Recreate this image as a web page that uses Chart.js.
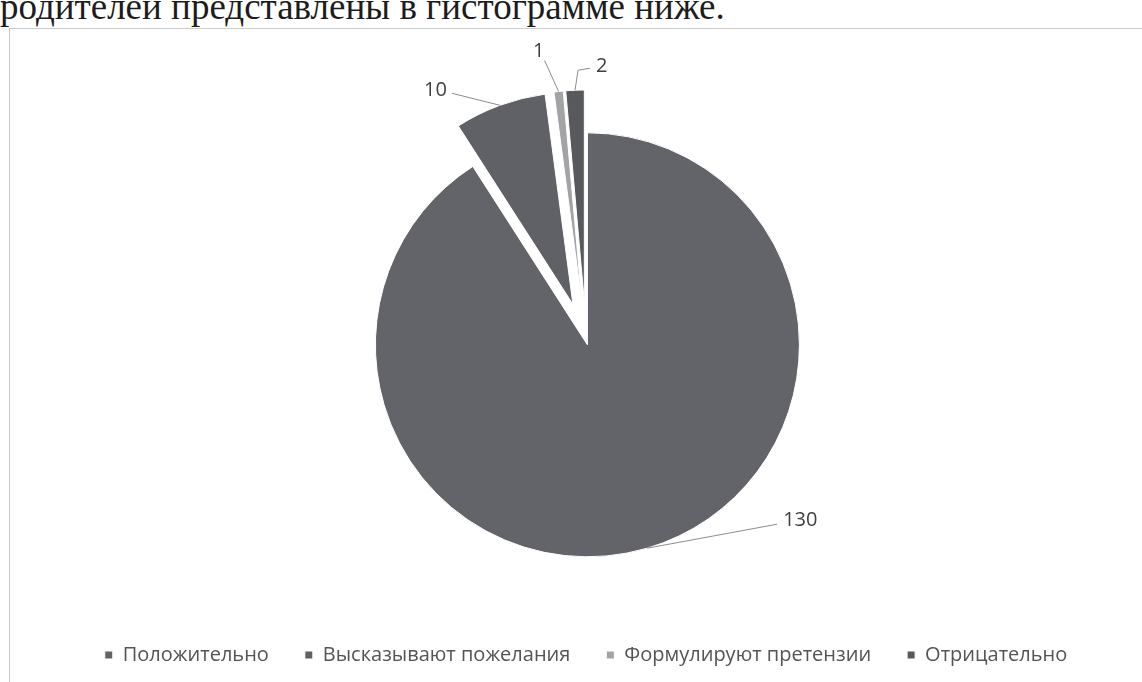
<!DOCTYPE html>
<html lang="ru">
<head>
<meta charset="utf-8">
<title>Отношение родителей</title>
<script src="https://cdn.jsdelivr.net/npm/chart.js@4.4.1/dist/chart.umd.min.js"></script>
<style>
  html, body { margin: 0; padding: 0; background: #fff; }
  body { width: 1142px; height: 682px; position: relative; overflow: hidden; }
  .line { position: absolute; left: 0; top: -14px; line-height: 41px; font-family: "Liberation Serif", serif; font-size: 37px; color: #1c1c1c; white-space: nowrap; }
  .frame { position: absolute; left: 9px; top: 28px; width: 1140px; height: 670px; border-left: 1px solid #c6c6c6; border-top: 1px solid #cdcdcd; }
  #wrap { position: absolute; left: 0; top: 0; width: 1142px; height: 682px; }
</style>
</head>
<body>
<div class="line">родителей представлены в гистограмме ниже.</div>
<div class="frame"></div>
<div id="wrap"><canvas id="pie"></canvas></div>
<script>
// данные диаграммы
const categories = ['Положительно', 'Высказывают пожелания', 'Формулируют претензии', 'Отрицательно'];
const values = [130, 10, 1, 2];

// оформление секторов
const sliceColors = ['#636469', '#606166', '#a3a3a6', '#58595d'];
const explode = [5, 38, 38, 38];

// выноски подписей: изломы линии и место текста относительно края сектора
const leaders = [
  { path: [[130, -24]], text: [136, -28], align: 'left' },
  { path: [[-48, -12]], text: [-53, -15], align: 'right' },
  { path: [[-14, -31]], text: [-20, -40], align: 'center' },
  { path: [[3, -20], [15, -22]], text: [21, -24], align: 'left' }
];

// выдвигаем сектора от центра
const explodePlugin = {
  id: 'explode',
  afterDatasetsUpdate(chart) {
    const meta = chart.getDatasetMeta(0);
    meta.data.forEach((arc, i) => {
      const mid = (arc.startAngle + arc.endAngle) / 2;
      arc.x += Math.cos(mid) * explode[i];
      arc.y += Math.sin(mid) * explode[i];
    });
  }
};

// подписи значений с выносками
const valueLabels = {
  id: 'valueLabels',
  afterDatasetsDraw(chart) {
    const ctx = chart.ctx;
    const meta = chart.getDatasetMeta(0);
    ctx.save();
    ctx.font = '20px "Open Sans", sans-serif';
    ctx.fillStyle = '#404040';
    ctx.strokeStyle = '#8c8c8c';
    ctx.lineWidth = 1;
    ctx.textBaseline = 'middle';
    meta.data.forEach((arc, i) => {
      const mid = (arc.startAngle + arc.endAngle) / 2;
      const ax = arc.x + Math.cos(mid) * arc.outerRadius;
      const ay = arc.y + Math.sin(mid) * arc.outerRadius;
      const l = leaders[i];
      ctx.beginPath();
      ctx.moveTo(ax, ay);
      l.path.forEach(p => ctx.lineTo(ax + p[0], ay + p[1]));
      ctx.stroke();
      ctx.textAlign = l.align;
      ctx.fillText(String(values[i]), ax + l.text[0], ay + l.text[1]);
    });
    ctx.restore();
  }
};

const ctx = document.getElementById('pie');

new Chart(ctx, {
  type: 'pie',
  data: {
    labels: categories,
    datasets: [{
      data: values,
      backgroundColor: sliceColors,
      borderColor: '#ffffff',
      borderWidth: 1,
      radius: 212
    }]
  },
  options: {
    responsive: true,
    maintainAspectRatio: false,
    animation: false,
    events: [],
    layout: { padding: { top: 71, left: 30, right: 0, bottom: 7 } },
    plugins: {
      tooltip: { enabled: false },
      legend: {
        position: 'bottom',
        labels: {
          boxWidth: 8,
          boxHeight: 8,
          padding: 36,
          color: '#545454',
          font: { family: '"Open Sans", sans-serif', size: 20 }
        }
      }
    }
  },
  plugins: [explodePlugin, valueLabels]
});
</script>
</body>
</html>
